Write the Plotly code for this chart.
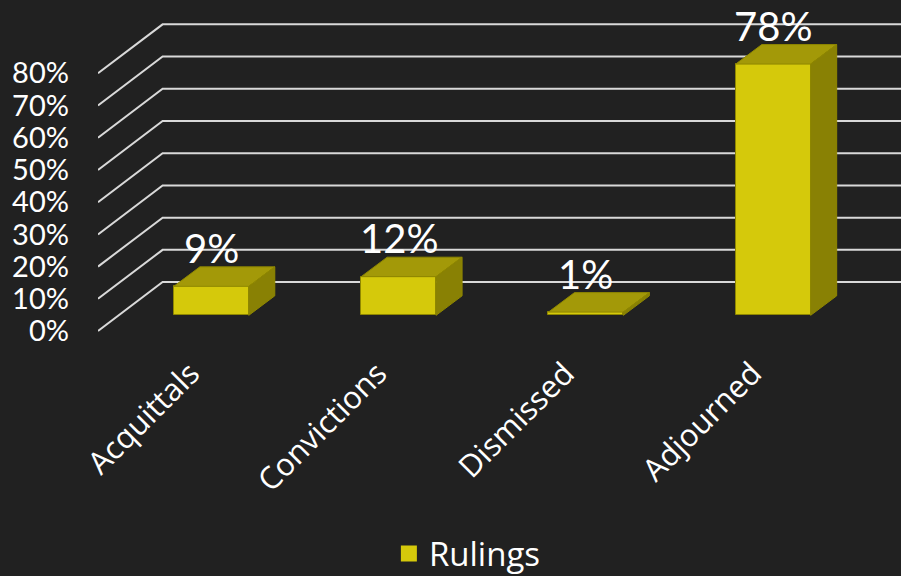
import plotly.graph_objects as go

# ---- data ----
categories = ["Acquittals", "Convictions", "Dismissed", "Adjourned"]
rulings = [9, 12, 1, 78]
y_ticks = [0, 10, 20, 30, 40, 50, 60, 70, 80]
y_tick_labels = [f"{t}%" for t in y_ticks]
series_name = "Rulings"

# ---- style / pseudo-3D geometry (axis units) ----
BG = "#212121"
FRONT = "#D5C90B"
TOP = "#A39908"
SIDE = "#898104"
EDGE = "#8f8700"
GRID = "#d9d9d9"

bar_w = 0.4          # bar width in category units
dfx, dfy = 0.111, 4.87   # offset of bar front plane from the front of the floor
ddx, ddy = 0.139, 6.05   # bar depth
wdx, wdy = 0.345, 15.2   # depth of the back wall

x_range = [-0.4939, 3.7934]
y_range = [-2.79, 102.76]

fig = go.Figure()

# gridlines: left wall diagonal + back wall horizontal, one per tick
shapes = []
for t in y_ticks:
    x0 = x_range[0]
    shapes.append(dict(
        type="path",
        path=f"M {x0},{t} L {x0 + wdx},{t + wdy} L {x_range[1]},{t + wdy}",
        xref="x", yref="y", layer="below",
        line=dict(color=GRID, width=2),
    ))

# front faces
xs = [i + dfx for i in range(len(categories))]
fig.add_trace(go.Bar(
    x=xs, y=rulings, base=[dfy] * len(rulings), width=bar_w,
    marker=dict(color=FRONT, line=dict(color=EDGE, width=1)),
    showlegend=False, hoverinfo="skip",
))

# top and side faces
for xc, v in zip(xs, rulings):
    xl, xr = xc - bar_w / 2, xc + bar_w / 2
    yb, yt = dfy, dfy + v
    fig.add_trace(go.Scatter(
        x=[xl, xl + ddx, xr + ddx, xr, xl],
        y=[yt, yt + ddy, yt + ddy, yt, yt],
        fill="toself", fillcolor=TOP, mode="lines",
        line=dict(color=EDGE, width=1), showlegend=False, hoverinfo="skip",
    ))
    fig.add_trace(go.Scatter(
        x=[xr, xr + ddx, xr + ddx, xr, xr],
        y=[yb, yb + ddy, yt + ddy, yt, yb],
        fill="toself", fillcolor=SIDE, mode="lines",
        line=dict(color=EDGE, width=1), showlegend=False, hoverinfo="skip",
    ))

# legend entry
fig.add_trace(go.Scatter(
    x=[None], y=[None], mode="markers", name=series_name,
    marker=dict(symbol="square", size=18, color=FRONT),
))

annotations = []
for xc, v in zip(xs, rulings):
    annotations.append(dict(
        x=xc, y=dfy + v + ddy, xref="x", yref="y",
        text=f"{v}%", showarrow=False, yanchor="bottom", yshift=-7,
        font=dict(family="Lato", size=40, color="white"),
    ))

fig.update_layout(
    width=901, height=576,
    margin=dict(l=98, r=0, t=0, b=236, autoexpand=False),
    paper_bgcolor=BG, plot_bgcolor=BG,
    shapes=shapes, annotations=annotations,
    showlegend=True,
    legend=dict(orientation="h", x=0.46, xanchor="center", y=-0.628, yanchor="middle",
                font=dict(family="Open Sans", size=33, color="white"),
                itemsizing="trace", bgcolor="rgba(0,0,0,0)"),
    xaxis=dict(range=x_range, tickmode="array", tickvals=list(range(len(categories))),
               ticktext=categories, tickangle=-45, showgrid=False, zeroline=False,
               showline=False, ticks="", ticklabelstandoff=8, automargin=False,
               tickfont=dict(family="Open Sans", size=31, color="white")),
    yaxis=dict(range=y_range, tickmode="array", tickvals=y_ticks, ticktext=y_tick_labels,
               showgrid=False, zeroline=False, showline=False, ticks="",
               ticklabelstandoff=28, automargin=False,
               tickfont=dict(family="Lato", size=29, color="white")),
    bargap=0,
)

fig.write_html("out.html", config={"displayModeBar": False})

# remove the default page margin so the figure sits at the window's top-left corner
with open("out.html", "r", encoding="utf-8") as f:
    html = f.read()
html = html.replace("<body>", '<body style="margin:0;background:#212121;">', 1)
with open("out.html", "w", encoding="utf-8") as f:
    f.write(html)
